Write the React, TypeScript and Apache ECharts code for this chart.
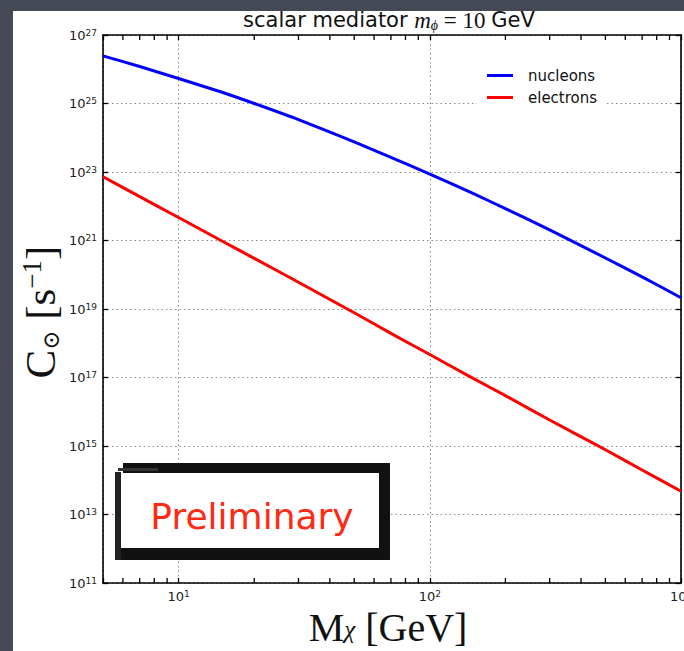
import React, { useEffect, useRef } from 'react';
import * as echarts from 'echarts';

// Dark-matter mass M_chi in GeV
const massGeV = [5, 7, 10, 15, 20, 30, 50, 70, 100, 150, 200, 300, 500, 700, 1000];
// log10 of capture rate C_sun [s^-1]
const nucleonsLog10C = [26.39, 26.08, 25.73, 25.32, 25.0, 24.53, 23.88, 23.43, 22.94, 22.36, 21.93, 21.31, 20.49, 19.94, 19.33];
const electronsLog10C = [22.86, 22.28, 21.67, 20.97, 20.48, 19.78, 18.89, 18.29, 17.67, 16.96, 16.47, 15.76, 14.89, 14.3, 13.68];
// minor tick positions on the log x axis
const minorTicksX = [6, 7, 8, 9, 20, 30, 40, 50, 60, 70, 80, 90, 200, 300, 400, 500, 600, 700, 800, 900];
const seriesNames = ['nucleons', 'electrons'];
const yMinExp = 11;
const yMaxExp = 27;
const yStepExp = 2;

const SANS = 'DejaVu Sans';
const SERIF = 'Liberation Serif';

export default function App() {
  const ref = useRef<HTMLDivElement>(null);
  useEffect(() => {
    document.body.style.margin = '0';
    const chart = echarts.init(ref.current!, null, { renderer: 'svg' });
    const tickLabelRich = {
      b: { fontFamily: SANS, fontSize: 13, color: '#222', lineHeight: 14 },
      s: { fontFamily: SANS, fontSize: 9, color: '#222', lineHeight: 9, verticalAlign: 'top' },
    };
    const xFormatter = (v: number) => {
      const e = Math.log10(v);
      if (Math.abs(e - Math.round(e)) > 1e-6) return '';
      return `{b|10}{s|${Math.round(e)}}`;
    };
    const yFormatter = (v: number) => `{b|10}{s|${v}}`;
    const axisLine = { show: true, lineStyle: { color: '#000', width: 1.6 } };
    const tick = { show: true, inside: true, length: 5, lineStyle: { color: '#000', width: 1.3 } };
    const split = { show: true, lineStyle: { color: '#8a8a8a', type: [1.5, 3], width: 1 } };

    const option: any = {
      animation: false,
      backgroundColor: 'transparent',
      grid: { left: 103, right: 3, top: 35, bottom: 68, outerBoundsMode: 'none', containLabel: false },
      legend: {
        data: seriesNames,
        orient: 'vertical',
        left: 477,
        top: 58,
        padding: [10, 8, 10, 10],
        itemGap: 7,
        itemWidth: 26,
        itemHeight: 3,
        icon: 'rect',
        backgroundColor: '#fff',
        textStyle: { fontFamily: SANS, fontSize: 15, color: '#111', lineHeight: 15, padding: [0, 0, 0, 10] },
      },
      xAxis: [
        {
          type: 'log',
          logBase: 10,
          min: 5,
          max: 1000,
          position: 'bottom',
          axisLine,
          axisTick: tick,
          axisLabel: { margin: 6, formatter: xFormatter, rich: tickLabelRich, showMinLabel: true, showMaxLabel: true, hideOverlap: false },
          splitLine: split,
        },
        {
          type: 'log',
          logBase: 10,
          min: 5,
          max: 1000,
          position: 'top',
          axisLine,
          axisTick: tick,
          axisLabel: { show: false },
          splitLine: { show: false },
        },
      ],
      yAxis: [
        {
          type: 'value',
          min: yMinExp,
          max: yMaxExp,
          interval: yStepExp,
          position: 'left',
          axisLine,
          axisTick: tick,
          axisLabel: { margin: 6, formatter: yFormatter, rich: tickLabelRich },
          splitLine: split,
        },
        {
          type: 'value',
          min: yMinExp,
          max: yMaxExp,
          interval: yStepExp,
          position: 'right',
          axisLine,
          axisTick: tick,
          axisLabel: { show: false },
          splitLine: { show: false },
        },
      ],
      series: [
        {
          name: seriesNames[0],
          type: 'line',
          showSymbol: false,
          smooth: 0.2,
          color: '#0000ff',
          lineStyle: { color: '#0000ff', width: 3 },
          data: massGeV.map((m, i) => [m, nucleonsLog10C[i]]),
          z: 3,
        },
        {
          name: seriesNames[1],
          type: 'line',
          showSymbol: false,
          smooth: 0.2,
          color: '#ff0000',
          lineStyle: { color: '#ff0000', width: 3 },
          data: massGeV.map((m, i) => [m, electronsLog10C[i]]),
          z: 3,
        },
        {
          type: 'custom',
          silent: true,
          clip: false,
          encode: { x: 0, y: 1 },
          data: minorTicksX.map((v) => [v, yMinExp]),
          renderItem: (_p: any, api: any) => {
            const v = api.value(0);
            const b = api.coord([v, yMinExp]);
            const t = api.coord([v, yMaxExp]);
            const st = { stroke: '#000', lineWidth: 1.3 };
            return {
              type: 'group',
              children: [
                { type: 'line', shape: { x1: b[0], y1: b[1], x2: b[0], y2: b[1] - 5 }, style: st },
                { type: 'line', shape: { x1: t[0], y1: t[1], x2: t[0], y2: t[1] + 5 }, style: st },
              ],
            };
          },
        },
      ],
      graphic: [
        {
          type: 'text',
          x: 389,
          y: 20,
          style: {
            text: '{a|scalar mediator }{m|m}{sub|ϕ}{e| = 10 }{a|GeV}',
            textAlign: 'center',
            textVerticalAlign: 'middle',
            rich: {
              a: { fontFamily: SANS, fontSize: 21, fill: '#111', lineHeight: 24 },
              m: { fontFamily: SERIF, fontStyle: 'italic', fontSize: 23, fill: '#111', lineHeight: 24 },
              sub: { fontFamily: SERIF, fontStyle: 'italic', fontSize: 14, fill: '#111', lineHeight: 15, verticalAlign: 'bottom' },
              e: { fontFamily: SERIF, fontSize: 23, fill: '#111', lineHeight: 24 },
            },
          },
        },
        {
          type: 'text',
          x: 388,
          y: 627,
          style: {
            text: '{m|M}{sub|χ}{t| [GeV]}',
            textAlign: 'center',
            textVerticalAlign: 'middle',
            rich: {
              m: { fontFamily: SERIF, fontSize: 40, fill: '#111', lineHeight: 30 },
              sub: { fontFamily: SERIF, fontStyle: 'italic', fontSize: 25, fill: '#111', lineHeight: 18, verticalAlign: 'bottom' },
              t: { fontFamily: SERIF, fontSize: 40, fill: '#111', lineHeight: 30 },
            },
          },
        },
        {
          type: 'text',
          x: 40,
          y: 312,
          rotation: Math.PI / 2,
          style: {
            text: '{m|C}{sub|⊙}{t| [s}{sup|−1}{t|]}',
            textAlign: 'center',
            textVerticalAlign: 'middle',
            rich: {
              m: { fontFamily: SERIF, fontSize: 43, fill: '#111', lineHeight: 44 },
              sub: { fontFamily: 'DejaVu Serif', fontSize: 23, fill: '#111', lineHeight: 28, verticalAlign: 'bottom' },
              t: { fontFamily: SERIF, fontSize: 43, fill: '#111', lineHeight: 44 },
              sup: { fontFamily: SERIF, fontSize: 27, fill: '#111', lineHeight: 30, verticalAlign: 'top' },
            },
          },
        },
        // "Preliminary" stamp
        { type: 'rect', z: 10, shape: { x: 115, y: 463, width: 275, height: 97 }, style: { fill: '#fff' } },
        { type: 'rect', z: 11, shape: { x: 123, y: 463, width: 267, height: 10 }, style: { fill: '#111' } },
        { type: 'rect', z: 11, shape: { x: 118, y: 468, width: 40, height: 3 }, style: { fill: '#333' } },
        { type: 'rect', z: 11, shape: { x: 379, y: 463, width: 11, height: 97 }, style: { fill: '#111' } },
        { type: 'rect', z: 11, shape: { x: 115, y: 548, width: 275, height: 12 }, style: { fill: '#111' } },
        { type: 'rect', z: 11, shape: { x: 115, y: 472, width: 6, height: 88 }, style: { fill: '#222' } },
        {
          type: 'text',
          z: 12,
          x: 252,
          y: 516,
          style: {
            text: 'Preliminary',
            textAlign: 'center',
            textVerticalAlign: 'middle',
            fontFamily: SANS,
            fontSize: 36,
            fill: '#ff2a14',
          },
        },
      ],
    };
    chart.setOption(option);
    return () => chart.dispose();
  }, []);

  return (
    <div style={{ position: 'fixed', left: 0, top: 0, width: 684, height: 651, background: '#444955', overflow: 'hidden' }}>
      <div style={{ position: 'absolute', left: 13, top: 11, right: 0, bottom: 0, background: '#fff' }} />
      <div ref={ref} style={{ position: 'absolute', left: 0, top: 0, width: 684, height: 651 }} />
    </div>
  );
}
